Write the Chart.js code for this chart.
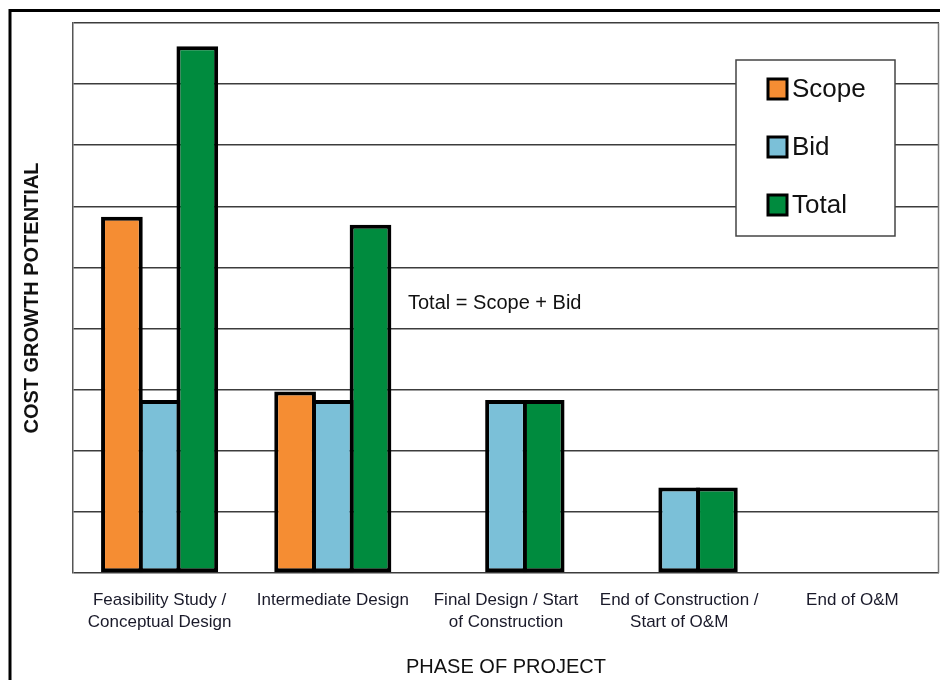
<!DOCTYPE html>
<html>
<head>
<meta charset="utf-8">
<script src="https://cdn.jsdelivr.net/npm/chart.js@4"></script>
<style>
html,body{margin:0;padding:0;background:#fff;}
#wrap{width:940px;height:680px;position:relative;}
</style>
</head>
<body>
<div id="wrap"><canvas id="c" width="940" height="680"></canvas></div>
<script>
const categories = [
  ["Feasibility Study /", "Conceptual Design"],
  ["Intermediate Design"],
  ["Final Design / Start", "of Construction"],
  ["End of Construction /", "Start of O&M"],
  ["End of O&M"]
];
const scopeValues = [5.83, 2.97, null, null, null];
const bidValues   = [2.83, 2.83, 2.83, 1.40, null];
const totalValues = [8.62, 5.70, 2.83, 1.40, null];
const seriesNames = ["Scope", "Bid", "Total"];
const seriesColors = ["#F58D33", "#7BC0D8", "#008B3E"];
const annotationText = "Total = Scope + Bid";
const yTitle = "COST GROWTH POTENTIAL";
const xTitle = "PHASE OF PROJECT";

const FONT = "'Liberation Sans', Arial, sans-serif";

const decorPlugin = {
  id: 'decor',
  beforeDraw(chart) {
    const ctx = chart.ctx;
    ctx.save();
    ctx.fillStyle = '#fff';
    ctx.fillRect(0, 0, chart.width, chart.height);
    ctx.strokeStyle = '#000';
    ctx.lineWidth = 3;
    ctx.beginPath();
    ctx.moveTo(10, chart.height);
    ctx.lineTo(10, 10.5);
    ctx.lineTo(chart.width, 10.5);
    ctx.stroke();
    ctx.restore();
  },
  afterDatasetsDraw(chart) {
    const ctx = chart.ctx;
    const a = chart.chartArea;
    ctx.save();
    ctx.strokeStyle = '#777';
    ctx.lineWidth = 1.5;
    ctx.beginPath();
    ctx.moveTo(a.right - 0.5, a.top);
    ctx.lineTo(a.right - 0.5, a.bottom);
    ctx.stroke();
    ctx.fillStyle = '#111';
    ctx.font = "20px " + FONT;
    ctx.textBaseline = 'middle';
    ctx.textAlign = 'left';
    ctx.fillText(annotationText, a.left + 335, a.top + 280);
    const bx = a.right - 203, by = a.top + 37, bw = 159, bh = 176;
    ctx.fillStyle = '#fff';
    ctx.fillRect(bx, by, bw, bh);
    ctx.strokeStyle = '#444';
    ctx.lineWidth = 1.5;
    ctx.strokeRect(bx, by, bw, bh);
    ctx.font = "26px " + FONT;
    chart.data.datasets.forEach((ds, i) => {
      const cy = by + 29 + i * 58;
      ctx.fillStyle = ds.backgroundColor;
      ctx.fillRect(bx + 32, cy - 10, 19, 20);
      ctx.strokeStyle = '#000';
      ctx.lineWidth = 3;
      ctx.strokeRect(bx + 32, cy - 10, 19, 20);
      ctx.fillStyle = '#111';
      ctx.fillText(ds.label, bx + 56, cy + 1);
    });
    ctx.restore();
  }
};

const mk = (i, vals) => ({
  label: seriesNames[i],
  data: vals,
  backgroundColor: seriesColors[i],
  borderColor: '#000',
  borderWidth: 4,
  borderSkipped: false,
  categoryPercentage: 0.653,
  barPercentage: 1.106
});

new Chart(document.getElementById('c'), {
  type: 'bar',
  data: {
    labels: categories,
    datasets: [mk(0, scopeValues), mk(1, bidValues), mk(2, totalValues)]
  },
  options: {
    responsive: false,
    animation: false,
    layout: { padding: { top: 23, right: 1, bottom: 0, left: 0 } },
    plugins: { legend: { display: false }, tooltip: { enabled: false } },
    scales: {
      x: {
        grid: { display: false, drawTicks: false },
        border: { display: false },
        afterFit: s => { s.height = 107; },
        ticks: {
          padding: 16,
          color: '#1a1a2a',
          maxRotation: 0,
          autoSkip: false,
          font: { size: 17, family: FONT, lineHeight: 1.3 }
        },
        title: {
          display: true,
          text: xTitle,
          color: '#111',
          font: { size: 20, family: FONT, lineHeight: 1.2 },
          padding: { top: 0, bottom: 1 }
        }
      },
      y: {
        min: 0,
        max: 9,
        afterFit: s => { s.width = 73; },
        ticks: { display: false, stepSize: 1 },
        grid: { color: '#3c3c3c', lineWidth: 1.5, drawTicks: false },
        border: { display: true, color: '#555', width: 1.5 },
        title: {
          display: true,
          text: yTitle,
          color: '#111',
          font: { size: 20, weight: 'bold', family: FONT, lineHeight: 1.2 },
          padding: { top: 20, bottom: 0 }
        }
      }
    }
  },
  plugins: [decorPlugin]
});
</script>
</body>
</html>
